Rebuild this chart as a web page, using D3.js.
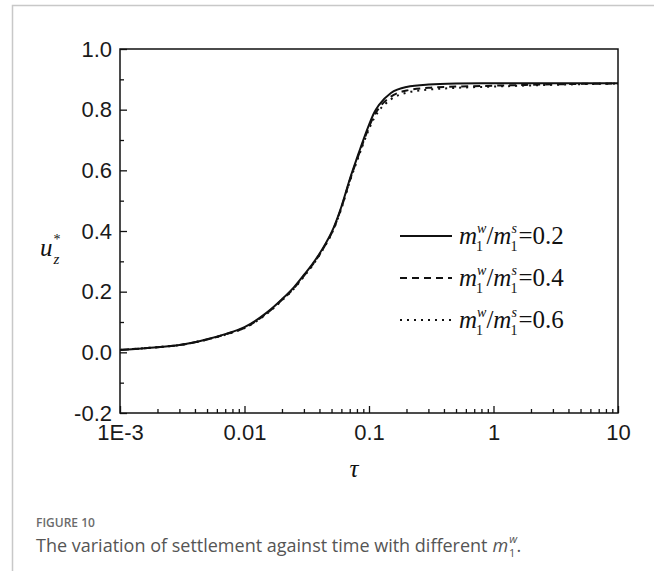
<!DOCTYPE html>
<html>
<head>
<meta charset="utf-8">
<script src="https://cdn.jsdelivr.net/npm/d3@7"></script>
<style>
	body { margin: 0; background: #fff; }
	svg { display: block; }
</style>
</head>
<body>
<div id="chart"></div>
<script>
//values
let tau = [0.001, 0.002, 0.003, 0.005, 0.007, 0.01, 0.015, 0.02, 0.025, 0.03, 0.035, 0.04, 0.045, 0.05,
	0.06, 0.07, 0.08, 0.09, 0.1, 0.11, 0.12, 0.15, 0.2, 0.3, 0.5, 1, 2, 5, 10];

let u02 = [0.008, 0.017, 0.024, 0.043, 0.06, 0.083, 0.13, 0.175, 0.215, 0.255, 0.29, 0.325, 0.36, 0.395,
	0.48, 0.57, 0.64, 0.70, 0.75, 0.79, 0.815, 0.855, 0.875, 0.883, 0.886, 0.887, 0.887, 0.887, 0.887];
let u04 = [0.008, 0.017, 0.024, 0.042, 0.059, 0.081, 0.128, 0.173, 0.212, 0.252, 0.287, 0.322, 0.357, 0.392,
	0.477, 0.566, 0.635, 0.694, 0.743, 0.781, 0.805, 0.843, 0.863, 0.872, 0.876, 0.879, 0.882, 0.885, 0.886];
let u06 = [0.008, 0.017, 0.024, 0.042, 0.058, 0.08, 0.126, 0.171, 0.21, 0.25, 0.285, 0.32, 0.355, 0.39,
	0.474, 0.562, 0.63, 0.688, 0.736, 0.772, 0.796, 0.834, 0.856, 0.866, 0.872, 0.876, 0.880, 0.884, 0.886];

let seriesNames = ["0.2", "0.4", "0.6"];
let xTickValues = [0.001, 0.01, 0.1, 1, 10];
let xTickLabels = ["1E-3", "0.01", "0.1", "1", "10"];
let yTickValues = [-0.2, 0, 0.2, 0.4, 0.6, 0.8, 1.0];
let yTickLabels = ["-0.2", "0.0", "0.2", "0.4", "0.6", "0.8", "1.0"];


function drawChart(){

	//sizing
	let width = 654;
	let height = 571;
	let margin = {top: 49, left: 120, right: 36, bottom: 158};

	let svg = d3.select("#chart")
		.append("svg")
		.attr("width", width)
		.attr("height", height);

	//page frame
	svg.append("path")
		.attr("d", `M12.5,${height} L12.5,5.5 L${width},5.5`)
		.attr("fill", "none")
		.attr("stroke", "#c8c8c8")
		.attr("stroke-width", 1.5);

	const xScale = d3.scaleLog()
		.domain([0.001, 10])
		.range([margin.left, width - margin.right]);

	const yScale = d3.scaleLinear()
		.domain([-0.2, 1.0])
		.range([height - margin.bottom, margin.top]);

	let x0 = xScale.range()[0], x1 = xScale.range()[1];
	let y0 = yScale.range()[0], y1 = yScale.range()[1];

	//minor ticks for the log axis
	let minorX = [];
	[0.001, 0.01, 0.1, 1].forEach((d)=>{
		for (let k = 2; k < 10; k++) minorX.push(d * k);
	});
	let minorY = [-0.1, 0.1, 0.3, 0.5, 0.7, 0.9];

	//x axis (ticks inside)
	svg.append("g")
		.attr("class", "axis x_axis")
		.attr("transform", `translate(0,${y0})`)
		.call(d3.axisTop(xScale).tickValues(minorX).tickSize(4).tickFormat(""))
		.call((g)=>g.select(".domain").remove());

	svg.append("g")
		.attr("class", "axis x_axis")
		.attr("transform", `translate(0,${y0})`)
		.call(d3.axisTop(xScale).tickValues(xTickValues).tickSize(7)
			.tickFormat((d, i)=>xTickLabels[i]))
		.call((g)=>g.select(".domain").remove())
		.call((g)=>g.selectAll("text").attr("y", 11).attr("dy", "0.71em"));

	//y axis (ticks inside)
	svg.append("g")
		.attr("class", "axis y_axis")
		.attr("transform", `translate(${x0},0)`)
		.call(d3.axisRight(yScale).tickValues(minorY).tickSize(4).tickFormat(""))
		.call((g)=>g.select(".domain").remove());

	svg.append("g")
		.attr("class", "axis y_axis")
		.attr("transform", `translate(${x0},0)`)
		.call(d3.axisRight(yScale).tickValues(yTickValues).tickSize(7)
			.tickFormat((d, i)=>yTickLabels[i]))
		.call((g)=>g.select(".domain").remove())
		.call((g)=>g.selectAll("text").attr("x", -8).attr("text-anchor", "end"));

	svg.selectAll(".axis line")
		.attr("stroke", "#111")
		.attr("stroke-width", 1.3);
	svg.selectAll(".axis text")
		.attr("fill", "#1a1a1a")
		.style("font-family", "Arial, 'Liberation Sans', sans-serif")
		.style("font-size", "22px");

	//plot box
	svg.append("rect")
		.attr("x", x0)
		.attr("y", y1)
		.attr("width", x1 - x0)
		.attr("height", y0 - y1)
		.attr("fill", "none")
		.attr("stroke", "#111")
		.attr("stroke-width", 1.5);

	//curves
	let series = [u02, u04, u06];
	let dashes = [null, "7,5", "2,5"];

	let line = d3.line()
		.x((d)=>xScale(d[0]))
		.y((d)=>yScale(d[1]))
		.curve(d3.curveMonotoneX);

	series.forEach((vals, i)=>{
		svg.append("path")
			.datum(tau.map((t, j)=>[t, vals[j]]))
			.attr("fill", "none")
			.attr("stroke", "#111")
			.attr("stroke-width", 2)
			.attr("stroke-dasharray", dashes[i])
			.attr("d", line);
	});

	//legend
	let serif = "'Liberation Serif', 'Times New Roman', serif";
	let legend = svg.append("g");

	seriesNames.forEach((name, i)=>{
		let ly = 236 + i * 42;
		legend.append("line")
			.attr("x1", 400)
			.attr("x2", 452)
			.attr("y1", ly)
			.attr("y2", ly)
			.attr("stroke", "#111")
			.attr("stroke-width", 2)
			.attr("stroke-dasharray", dashes[i]);

		let bx = 459, by = ly + 8;
		let put = (txt, x, y, size, italic)=>{
			let t = legend.append("text")
				.attr("x", x)
				.attr("y", y)
				.style("font-family", serif)
				.style("font-size", size + "px")
				.style("font-style", italic ? "italic" : "normal")
				.attr("fill", "#111")
				.text(txt);
			return t.node().getComputedTextLength();
		};
		let cx = bx;
		cx += put("m", cx, by, 25, true);
		let w1 = put("w", cx, by - 11, 14, true);
		let w2 = put("1", cx - 1, by + 7, 14, false);
		cx += Math.max(w1, w2);
		cx += put("/", cx, by, 25, false);
		cx += put("m", cx, by, 25, true);
		let s1 = put("s", cx, by - 11, 14, true);
		let s2 = put("1", cx - 1, by + 7, 14, false);
		cx += Math.max(s1, s2);
		put("=" + name, cx, by, 25, false);
	});

	//axis titles
	let ylab = svg.append("text")
		.attr("x", 40)
		.attr("y", 256)
		.style("font-family", serif)
		.style("font-size", "25px")
		.style("font-style", "italic")
		.attr("fill", "#111");
	ylab.append("tspan").text("u");
	ylab.append("tspan").attr("dx", 1).attr("dy", -12).style("font-size", "14px").style("font-style", "normal").text("*");
	ylab.append("tspan").attr("dx", -7).attr("dy", 20).style("font-size", "15px").text("z");

	svg.append("text")
		.attr("x", 354)
		.attr("y", 477)
		.attr("text-anchor", "middle")
		.style("font-family", serif)
		.style("font-size", "25px")
		.style("font-style", "italic")
		.attr("fill", "#111")
		.text("τ");

	//caption
	let sans = "'Open Sans', 'Noto Sans', sans-serif";
	svg.append("text")
		.attr("x", 36)
		.attr("y", 527)
		.style("font-family", sans)
		.style("font-size", "12px")
		.style("font-weight", 600)
		.attr("fill", "#6b6b6b")
		.text("FIGURE 10");

	let cap = svg.append("text")
		.attr("x", 36)
		.attr("y", 552)
		.style("font-family", sans)
		.style("font-size", "18px")
		.attr("fill", "#555");
	cap.append("tspan").text("The variation of settlement against time with different");
	cap.append("tspan").attr("dx", 5).style("font-style", "italic").text("m");
	cap.append("tspan").attr("dx", 1).attr("dy", -9).style("font-size", "11px").style("font-style", "italic").text("w");
	cap.append("tspan").attr("dx", -8).attr("dy", 14).style("font-size", "11px").text("1");
	cap.append("tspan").attr("dx", 1).attr("dy", -5).text(".");

} //function drawChart

drawChart();
</script>
</body>
</html>
